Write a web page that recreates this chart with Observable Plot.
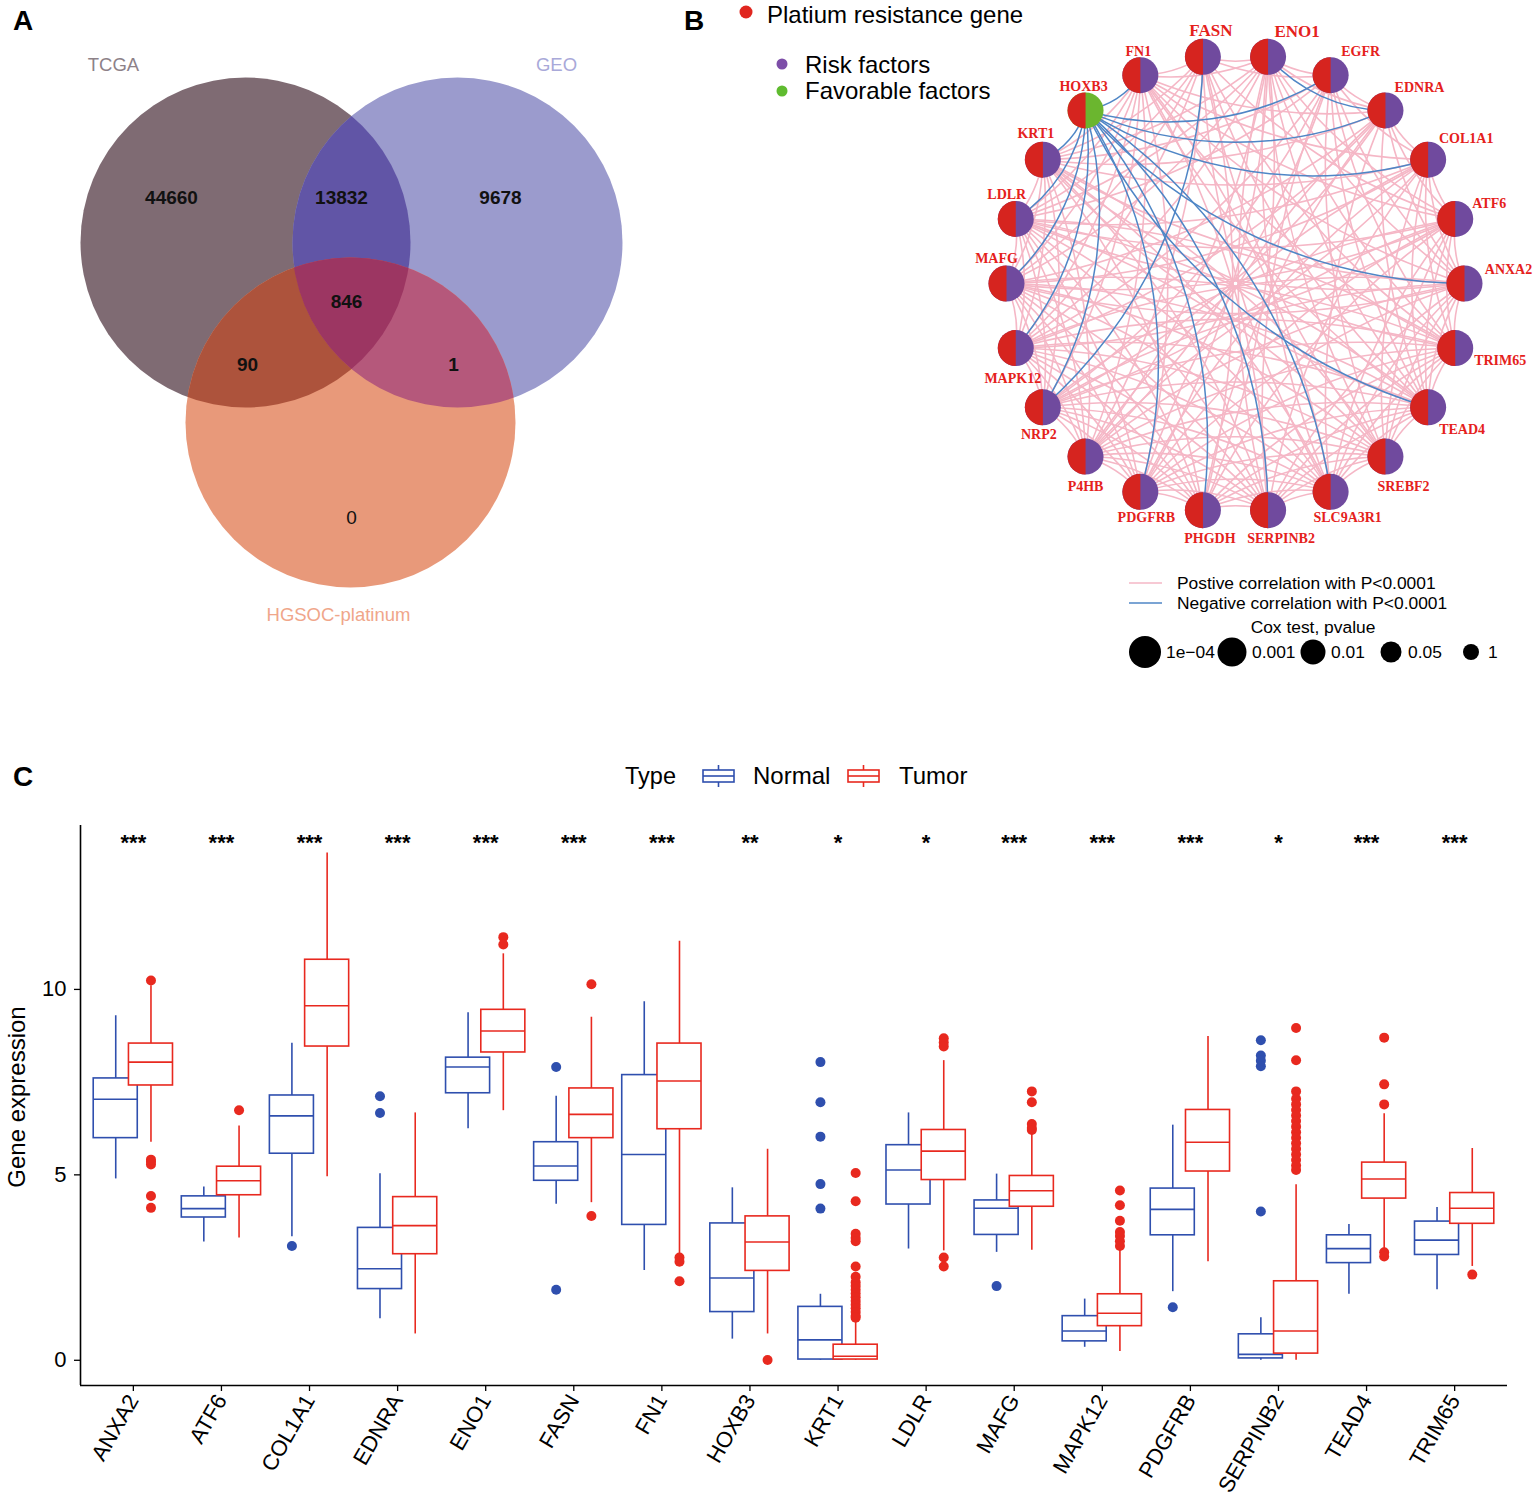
<!DOCTYPE html>
<html>
<head>
<meta charset="utf-8">
<script src="https://cdn.jsdelivr.net/npm/d3@7"></script>
<script src="https://cdn.jsdelivr.net/npm/@observablehq/plot@0.6"></script>
<style>
html,body{margin:0;padding:0;background:#fff;}
#root{position:relative;width:1535px;height:1503px;overflow:hidden;font-family:"Liberation Sans",Arial,sans-serif;}
#root > *{position:absolute;}
</style>
</head>
<body>
<div id="root"></div>
<script>
// ================= DATA =================
// Panel A: Venn
const vennSets = ["TCGA", "GEO", "HGSOC-platinum"];
const vennRegions = ["TCGA", "TCGA&GEO", "GEO", "TCGA&GEO&HGSOC", "TCGA&HGSOC", "GEO&HGSOC", "HGSOC"];
const vennCounts = [44660, 13832, 9678, 846, 90, 1, 0];

// Panel B: network
const netGenes = ["ANXA2","ATF6","COL1A1","EDNRA","EGFR","ENO1","FASN","FN1","HOXB3","KRT1","LDLR",
  "MAFG","MAPK12","NRP2","P4HB","PDGFRB","PHGDH","SERPINB2","SLC9A3R1","SREBF2","TEAD4","TRIM65"];
const favorableGenes = ["HOXB3"];
const positiveEdges = [
  "ANXA2: ATF6 COL1A1 EDNRA EGFR ENO1 FN1 KRT1 LDLR MAFG MAPK12 NRP2 P4HB PDGFRB SERPINB2 SLC9A3R1 SREBF2 TEAD4 TRIM65",
  "ATF6: COL1A1 EDNRA ENO1 FASN FN1 LDLR MAFG MAPK12 NRP2 P4HB PDGFRB PHGDH SLC9A3R1 SREBF2 TEAD4 TRIM65",
  "COL1A1: EDNRA EGFR FN1 KRT1 LDLR MAFG NRP2 P4HB PDGFRB SERPINB2 SREBF2 TEAD4 TRIM65",
  "EDNRA: EGFR ENO1 FN1 KRT1 MAFG MAPK12 NRP2 PDGFRB PHGDH SLC9A3R1 TEAD4",
  "EGFR: ENO1 FASN KRT1 LDLR MAPK12 NRP2 P4HB SERPINB2 SREBF2 TEAD4 TRIM65",
  "ENO1: FASN FN1 KRT1 LDLR MAFG MAPK12 P4HB PDGFRB PHGDH SERPINB2 SLC9A3R1 SREBF2 TEAD4 TRIM65",
  "FASN: FN1 KRT1 LDLR MAFG MAPK12 P4HB PHGDH SLC9A3R1 SREBF2 TEAD4 TRIM65",
  "FN1: KRT1 LDLR MAFG MAPK12 NRP2 P4HB PDGFRB SERPINB2 SLC9A3R1 TEAD4 TRIM65",
  "KRT1: LDLR MAFG MAPK12 NRP2 P4HB PHGDH SERPINB2 SLC9A3R1 SREBF2 TEAD4 TRIM65",
  "LDLR: MAFG MAPK12 NRP2 P4HB PDGFRB PHGDH SERPINB2 SLC9A3R1 SREBF2 TEAD4 TRIM65",
  "MAFG: MAPK12 NRP2 P4HB PDGFRB PHGDH SERPINB2 SLC9A3R1 SREBF2 TEAD4 TRIM65",
  "MAPK12: NRP2 P4HB PDGFRB PHGDH SERPINB2 SLC9A3R1 SREBF2 TEAD4 TRIM65",
  "NRP2: P4HB PDGFRB PHGDH SERPINB2 SLC9A3R1 SREBF2 TEAD4 TRIM65",
  "P4HB: PDGFRB PHGDH SERPINB2 SLC9A3R1 SREBF2 TEAD4 TRIM65",
  "PDGFRB: PHGDH SERPINB2 SLC9A3R1 SREBF2 TEAD4 TRIM65",
  "PHGDH: SERPINB2 SLC9A3R1 SREBF2 TEAD4 TRIM65",
  "SERPINB2: SLC9A3R1 SREBF2 TEAD4 TRIM65",
  "SLC9A3R1: SREBF2 TEAD4 TRIM65",
  "SREBF2: TEAD4 TRIM65",
  "TEAD4: TRIM65"
];
const negativeEdges = [
  "HOXB3: FN1 EGFR EDNRA COL1A1 ANXA2 TEAD4 SLC9A3R1 SERPINB2 PHGDH PDGFRB NRP2 MAPK12 MAFG LDLR KRT1",
  "FASN: NRP2",
  "ENO1: EDNRA"
];
const coxLegendLabels = ["1e\u221204", "0.001", "0.01", "0.05", "1"];

// Panel C: boxplots
const genesC = ["ANXA2","ATF6","COL1A1","EDNRA","ENO1","FASN","FN1","HOXB3","KRT1","LDLR","MAFG","MAPK12","PDGFRB","SERPINB2","TEAD4","TRIM65"];
const signif = ["***","***","***","***","***","***","***","**","*","*","***","***","***","*","***","***"];
const normalLow  = [4.89,3.19,3.33,1.12,6.24,4.21,2.42,0.57,0.00,3.00,2.91,0.35,1.85,0.00,1.78,1.90];
const normalQ1   = [5.99,3.85,5.57,1.92,7.20,4.84,3.65,1.30,0.02,4.20,3.38,0.51,3.37,0.05,2.62,2.84];
const normalMed  = [7.04,4.09,6.59,2.47,7.91,5.24,5.55,2.22,0.55,5.13,4.10,0.79,4.07,0.16,3.01,3.24];
const normalQ3   = [7.60,4.42,7.14,3.57,8.16,5.88,7.69,3.69,1.44,5.80,4.31,1.19,4.63,0.70,3.37,3.74];
const normalHigh = [9.29,4.67,8.55,5.03,9.37,7.12,9.67,4.65,1.78,6.67,5.02,1.65,6.34,1.15,3.66,4.12];
const normalOut  = [[],[],[3.08],[7.12,6.67],[],[7.91,1.90],[],[],[8.04,6.96,6.03,4.75,4.09],[],[2.00],[],[1.43],[8.63,8.22,8.08,7.93,4.01],[],[]];
const tumorLow   = [5.88,3.30,4.95,0.71,6.73,4.25,2.86,0.71,0.00,2.95,2.97,0.24,2.66,0.00,2.97,2.53];
const tumorQ1    = [7.41,4.45,8.46,2.86,8.30,5.99,6.23,2.41,0.02,4.86,4.14,0.92,5.09,0.18,4.36,3.68];
const tumorMed   = [8.04,4.84,9.56,3.63,8.88,6.63,7.53,3.19,0.11,5.64,4.57,1.27,5.88,0.79,4.89,4.10];
const tumorQ3    = [8.54,5.22,10.80,4.40,9.45,7.33,8.54,3.88,0.42,6.21,4.97,1.78,6.75,2.13,5.33,4.51];
const tumorHigh  = [10.10,6.32,13.68,6.67,10.96,9.25,11.30,5.69,1.04,8.08,6.15,2.97,8.73,4.73,6.65,5.71];
const tumorOut   = [[10.24,5.41,5.35,5.28,4.43,4.11],[6.74],[],[],[11.41,11.21],[10.14,3.89],[2.77,2.66,2.13],[0.01],
  [5.05,4.29,3.41,3.30,3.21,2.53,2.25,2.10,2.00,1.90,1.80,1.70,1.60,1.50,1.40,1.30,1.20,1.15],
  [8.68,8.57,8.46,2.77,2.53],[7.25,6.96,6.37,6.26,6.21],[4.58,4.18,3.76,3.46,3.35,3.21,3.08],[],
  [8.96,8.09,7.25,7.05,6.90,6.75,6.60,6.45,6.30,6.15,6.00,5.85,5.70,5.55,5.40,5.25,5.13],
  [8.70,7.44,6.90,2.91,2.80],[2.31]];

// ================= LAYOUT / STYLE =================
const root = document.getElementById("root");
function place(node, left, top) { node.style.left = left + "px"; node.style.top = top + "px"; root.appendChild(node); return node; }
const FONT = "Liberation Sans, Arial, sans-serif";

// ---------- Panel A ----------
const vennR = 165;
const vennCenterPos = {"TCGA": [-105, -60], "GEO": [107, -60], "HGSOC-platinum": [0, 120]};
const vennFill = {"TCGA": "#7f6b73", "GEO": "#9b9bcd", "HGSOC-platinum": "#e8997a"};
const vennLabelColor = {"TCGA": "#8d8188", "GEO": "#a9a9d9", "HGSOC-platinum": "#f0a68a"};
const vennSetLabelPos = {"TCGA": [-237, -237], "GEO": [206, -237], "HGSOC-platinum": [-12, 313]};
const regionLabelPos = [[-179,-105],[-9,-105],[150,-105],[-4,-1],[-103,62],[103,62],[1,215]];
const lensFill = {TG: "#6155a6", TH: "#ad533c", GH: "#b5587b", TGH: "#9c3662"};

const circles = vennSets.map(s => ({set: s, x: vennCenterPos[s][0], y: vennCenterPos[s][1]}));
const C_ = Object.fromEntries(circles.map(c => [c.set, c]));
const regions = vennRegions.map((r, i) => ({region: r, count: vennCounts[i], x: regionLabelPos[i][0], y: regionLabelPos[i][1]}));
const setLabels = vennSets.map(s => ({set: s, x: vennSetLabelPos[s][0], y: vennSetLabelPos[s][1]}));

const A = Plot.plot({
  width: 700, height: 640, margin: 0, axis: null,
  x: {type: "linear", domain: [-350, 350], range: [0, 700]},
  y: {type: "linear", domain: [-302, 338], range: [0, 640]},
  style: {background: "transparent", fontFamily: FONT, overflow: "visible"},
  marks: [
    ...circles.map(c => Plot.dot([c], {x: "x", y: "y", r: vennR, fill: vennFill[c.set], stroke: "none"})),
    Plot.dot([C_["GEO"]], {x: "x", y: "y", r: vennR, fill: lensFill.TG, stroke: "none"}),
    Plot.dot([C_["HGSOC-platinum"]], {x: "x", y: "y", r: vennR, fill: lensFill.TH, stroke: "none"}),
    Plot.dot([C_["HGSOC-platinum"]], {x: "x", y: "y", r: vennR, fill: lensFill.GH, stroke: "none"}),
    Plot.dot([C_["HGSOC-platinum"]], {x: "x", y: "y", r: vennR, fill: lensFill.TGH, stroke: "none"}),
    Plot.text(regions.filter(d => d.count > 0), {x: "x", y: "y", text: d => String(d.count), fontSize: 19, fontWeight: "bold", fill: "#111"}),
    Plot.text(regions.filter(d => d.count === 0), {x: "x", y: "y", text: d => String(d.count), fontSize: 19, fill: "#111"}),
    ...setLabels.map(s => Plot.text([s], {x: "x", y: "y", text: "set", fontSize: 18.5, fill: vennLabelColor[s.set]}))
  ]
});
(function clipVenn() {
  const sx = A.scale("x"), sy = A.scale("y");
  const svg = d3.select(A);
  const defs = svg.insert("defs", ":first-child");
  [["vclipT", "TCGA"], ["vclipG", "GEO"]].forEach(([id, s]) => {
    defs.append("clipPath").attr("id", id).append("circle")
      .attr("cx", sx.apply(C_[s].x)).attr("cy", sy.apply(C_[s].y)).attr("r", vennR);
  });
  const g = col => svg.selectAll("g").filter(function() { return this.getAttribute("fill") === col; });
  g(lensFill.TG).attr("clip-path", "url(#vclipT)");
  g(lensFill.TH).attr("clip-path", "url(#vclipT)");
  g(lensFill.GH).attr("clip-path", "url(#vclipG)");
  g(lensFill.TGH).each(function() {
    const wrap = document.createElementNS("http://www.w3.org/2000/svg", "g");
    this.parentNode.insertBefore(wrap, this);
    wrap.appendChild(this);
    wrap.setAttribute("clip-path", "url(#vclipG)");
    this.setAttribute("clip-path", "url(#vclipT)");
  });
})();
place(A, 0, 0);

// ---------- Panel B ----------
const BW = 580, BH = 575, bcx = 280, bcy = 283, bR = 229;
const nodeRed = "#d6241f", nodePurple = "#704a9e", nodeGreen = "#6bb62f", labelRed = "#e5211c";
const pinkEdge = "#f5b7c6", blueEdge = "#4f86c6";
const labelOffset = {ANXA2:[44,-14], ATF6:[34,-15], COL1A1:[38,-21], EDNRA:[34,-23], EGFR:[30,-24], ENO1:[29,-25],
  FASN:[8,-26], FN1:[-2,-24], HOXB3:[-2,-24], KRT1:[-7,-26], LDLR:[-9,-24], MAFG:[-10,-25], MAPK12:[-3,30],
  NRP2:[-4,27], P4HB:[0,30], PDGFRB:[6,26], PHGDH:[7,28], SERPINB2:[13,28], SLC9A3R1:[17,26], SREBF2:[18,30],
  TEAD4:[34,22], TRIM65:[45,12]};
const bigLabels = ["FASN", "ENO1"];

const nodes = netGenes.map((g, i) => {
  const a = i * 2 * Math.PI / netGenes.length;
  return {gene: g, x: Math.cos(a), y: Math.sin(a), fav: favorableGenes.includes(g)};
});
const nodeBy = Object.fromEntries(nodes.map(n => [n.gene, n]));
function parseEdges(list) {
  const out = [];
  for (const s of list) {
    const [a, rest] = s.split(":");
    for (const b of rest.trim().split(/\s+/)) {
      let p = nodeBy[a.trim()], q = nodeBy[b];
      // orient so that the circle centre lies on the left of travel -> bend toward centre
      const cr = (q.x - p.x) * (0 - p.y) - (q.y - p.y) * (0 - p.x);
      if (cr < 0) [p, q] = [q, p];
      out.push({a: p, b: q});
    }
  }
  return out;
}
const posE = parseEdges(positiveEdges), negE = parseEdges(negativeEdges);
const leftHalf = {draw(ctx, size) { const r = Math.sqrt(size / Math.PI); ctx.moveTo(0, -r); ctx.arc(0, 0, r, -Math.PI / 2, Math.PI / 2, true); ctx.closePath(); }};
const lab = (d) => ({lx: d.x + labelOffset[d.gene][0] / bR, ly: d.y - labelOffset[d.gene][1] / bR});
const nodesL = nodes.map(d => Object.assign({}, d, lab(d)));

const B = Plot.plot({
  width: BW, height: BH, margin: 0, axis: null,
  x: {type: "linear", domain: [-1, 1], range: [bcx - bR, bcx + bR]},
  y: {type: "linear", domain: [-1, 1], range: [bcy + bR, bcy - bR]},
  style: {background: "transparent", overflow: "visible"},
  marks: [
    Plot.arrow(posE, {x1: d => d.a.x, y1: d => d.a.y, x2: d => d.b.x, y2: d => d.b.y, bend: 15, headLength: 0, stroke: pinkEdge, strokeWidth: 1.6}),
    Plot.arrow(negE, {x1: d => d.a.x, y1: d => d.a.y, x2: d => d.b.x, y2: d => d.b.y, bend: 24, headLength: 0, stroke: blueEdge, strokeWidth: 1.5}),
    Plot.dot(nodes.filter(d => !d.fav), {x: "x", y: "y", r: 18, fill: nodePurple}),
    Plot.dot(nodes.filter(d => d.fav), {x: "x", y: "y", r: 18, fill: nodeGreen}),
    Plot.dot(nodes, {x: "x", y: "y", r: 18, symbol: leftHalf, fill: nodeRed}),
    Plot.text(nodesL.filter(d => !bigLabels.includes(d.gene)), {x: "lx", y: "ly", text: "gene", fill: labelRed, fontSize: 14, fontWeight: "bold", fontFamily: "Liberation Serif, Times New Roman, serif"}),
    Plot.text(nodesL.filter(d => bigLabels.includes(d.gene)), {x: "lx", y: "ly", text: "gene", fill: labelRed, fontSize: 17, fontWeight: "bold", fontFamily: "Liberation Serif, Times New Roman, serif"})
  ]
});
place(B, 955, 0);

// ---------- Panel C ----------
const cBlue = "#2f4fae", cRed = "#e8291f", dodge = 0.2, hw = 0.25;
const mkRows = (lo, q1, md, q3, hi, sh) => genesC.map((g, i) => ({i, x: i + sh, lo: lo[i], q1: q1[i], med: md[i], q3: q3[i], hi: hi[i]}));
const rowsN = mkRows(normalLow, normalQ1, normalMed, normalQ3, normalHigh, -dodge);
const rowsT = mkRows(tumorLow, tumorQ1, tumorMed, tumorQ3, tumorHigh, dodge);
const outN = genesC.flatMap((g, i) => normalOut[i].map(v => ({x: i - dodge, v})));
const outT = genesC.flatMap((g, i) => tumorOut[i].map(v => ({x: i + dodge, v})));
const boxMarks = (rows, col) => [
  Plot.ruleX(rows, {x: "x", y1: "lo", y2: "hi", stroke: col, strokeWidth: 1.6}),
  Plot.rect(rows, {x1: d => d.x - hw, x2: d => d.x + hw, y1: "q1", y2: "q3", fill: "white", stroke: col, strokeWidth: 1.6}),
  Plot.ruleY(rows, {y: "med", x1: d => d.x - hw, x2: d => d.x + hw, stroke: col, strokeWidth: 1.6})
];
const xDom = [-0.6, genesC.length - 0.4], yDom = [-0.68, 14.42];
const Cp = Plot.plot({
  width: 1535, height: 700, marginLeft: 80, marginRight: 28, marginTop: 25, marginBottom: 115,
  x: {type: "linear", domain: xDom}, y: {type: "linear", domain: yDom},
  style: {fontFamily: FONT, color: "#000", background: "transparent", overflow: "visible"},
  marks: [
    ...boxMarks(rowsN, cBlue),
    ...boxMarks(rowsT, cRed),
    Plot.dot(outN, {x: "x", y: "v", r: 5, fill: cBlue}),
    Plot.dot(outT, {x: "x", y: "v", r: 5, fill: cRed}),
    Plot.ruleX([xDom[0]], {stroke: "#000", strokeWidth: 1.6}),
    Plot.ruleY([yDom[0]], {stroke: "#000", strokeWidth: 1.6}),
    Plot.axisY({ticks: [0, 5, 10], tickSize: 6, tickPadding: 8, fontSize: 22, label: null, stroke: "#000", strokeWidth: 1.3}),
    Plot.axisX({ticks: d3.range(genesC.length), tickFormat: i => genesC[i], tickRotate: -60, tickSize: 6, tickPadding: 5, fontSize: 22, label: null, stroke: "#000", strokeWidth: 1.3}),
    Plot.text(signif, {x: (d, i) => i, frameAnchor: "top", dy: 9, text: d => d, fontSize: 22, fontWeight: "bold"})
  ]
});
place(Cp, 0, 800);

// ---------- Overlay text / legends ----------
const NS = "http://www.w3.org/2000/svg";
const ov = document.createElementNS(NS, "svg");
ov.setAttribute("width", 1535); ov.setAttribute("height", 1503);
ov.style.pointerEvents = "none";
const sizes = [16, 14.5, 12.5, 10.5, 8];
const coxX = [1145, 1232, 1313, 1391, 1471];
const coxTextX = [1166, 1252, 1331, 1408, 1488];
const icon = (x, col) => `<g stroke="${col}" stroke-width="1.6" fill="white">
  <line x1="${x + 15.5}" y1="765" x2="${x + 15.5}" y2="770"/>
  <line x1="${x + 15.5}" y1="782" x2="${x + 15.5}" y2="787"/>
  <rect x="${x}" y="770" width="31" height="12"/>
  <line x1="${x}" y1="776" x2="${x + 31}" y2="776"/></g>`;
ov.innerHTML = `
<g font-family="${FONT}" fill="#000">
  <text x="13" y="30" font-size="28" font-weight="bold">A</text>
  <text x="684" y="30" font-size="28" font-weight="bold">B</text>
  <text x="13" y="786" font-size="28" font-weight="bold">C</text>

  <circle cx="746" cy="12" r="6.5" fill="#e0261f"/>
  <text x="767" y="23" font-size="24">Platium resistance gene</text>
  <circle cx="782" cy="64" r="5.5" fill="#7d4ea8"/>
  <text x="805" y="73" font-size="24">Risk factors</text>
  <circle cx="782" cy="91" r="5.5" fill="#5fbb2f"/>
  <text x="805" y="99" font-size="24">Favorable factors</text>

  <line x1="1129" y1="583" x2="1162" y2="583" stroke="${pinkEdge}" stroke-width="1.6"/>
  <text x="1177" y="589" font-size="17.4">Postive correlation with P&lt;0.0001</text>
  <line x1="1129" y1="603" x2="1162" y2="603" stroke="${blueEdge}" stroke-width="1.6"/>
  <text x="1177" y="609" font-size="17.4">Negative correlation with P&lt;0.0001</text>
  <text x="1313" y="633" font-size="17.4" text-anchor="middle">Cox test, pvalue</text>
  ${coxLegendLabels.map((t, i) => `<circle cx="${coxX[i]}" cy="652" r="${sizes[i]}" fill="#000"/><text x="${coxTextX[i]}" y="658" font-size="17.4">${t}</text>`).join("")}

  <text x="625" y="784" font-size="23.5">Type</text>
  ${icon(703, cBlue)}
  <text x="753" y="784" font-size="24">Normal</text>
  ${icon(848, cRed)}
  <text x="899" y="784" font-size="24">Tumor</text>

  <text transform="translate(25,1097) rotate(-90)" text-anchor="middle" font-size="24">Gene expression</text>
</g>`;
place(ov, 0, 0);
</script>
</body>
</html>
